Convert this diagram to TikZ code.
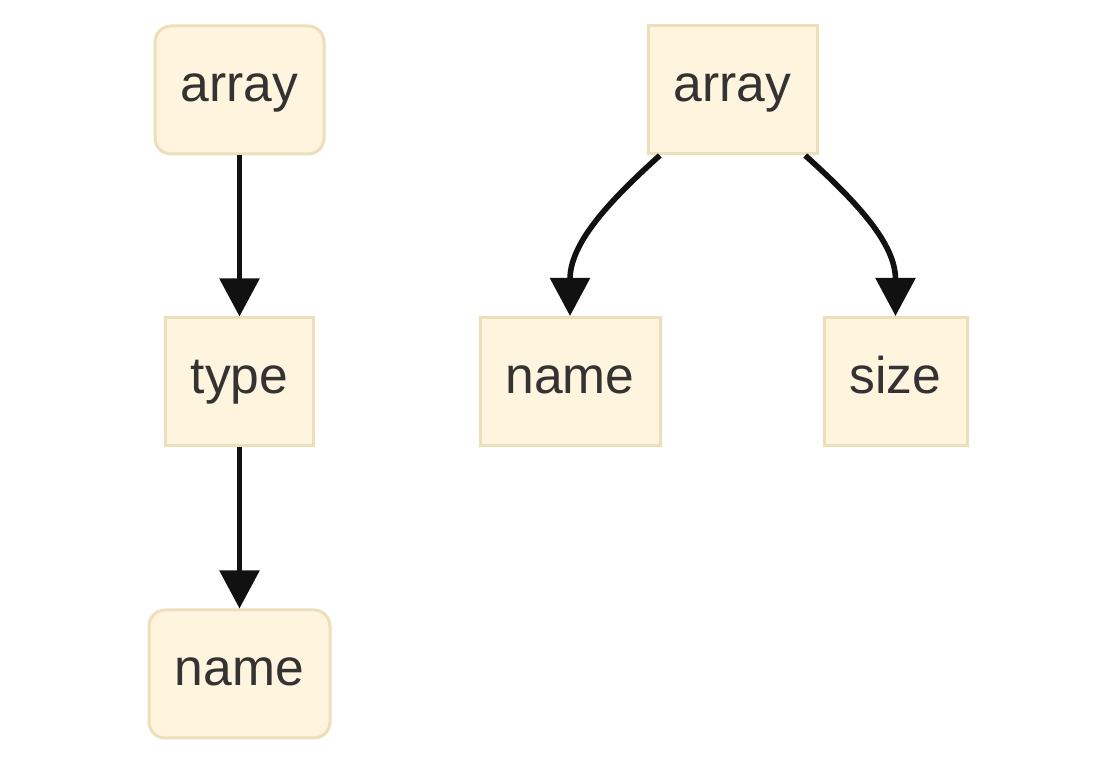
\documentclass[tikz,border=0pt]{standalone}
\usepackage{fontspec}
\setmainfont{Liberation Sans}
\usepackage{tikz}
\usetikzlibrary{arrows.meta,positioning}

\definecolor{boxfill}{HTML}{FFF4DE}
\definecolor{boxline}{HTML}{EEDFB8}
\definecolor{boxtext}{HTML}{333333}
\definecolor{edgecol}{HTML}{111111}

\begin{document}
\begin{tikzpicture}[x=0.5pt,y=-0.5pt,node distance=80.5pt and 1cm,
  box/.style={draw=boxline,fill=boxfill,line width=1.5pt,text=boxtext,align=center,
    minimum height=64pt,inner sep=0pt,text height=18pt,text depth=6pt,
    font=\fontsize{25.8}{31}\selectfont},
  roundbox/.style={box,rounded corners=8pt},
  arrow/.style={-{Triangle[length=19pt,width=19.5pt]},line width=2.8pt,draw=edgecol}]
\useasboundingbox (0,0) rectangle (1116,764);
% left column
\node[roundbox,minimum width=84.5pt] (array1) at (239.5,90) {array};
\node[box,minimum width=74pt,below=of array1] (type) {type};
\node[roundbox,minimum width=90.5pt,below=of type] (name1) {name};
\draw[arrow] (array1) -- (type);
\draw[arrow] (type) -- (name1);
% right part
\node[box,minimum width=84.5pt] (array2) at (732.5,90) {array};
\node[box,minimum width=90pt] (name2) at (570,381.5) {name};
\node[box,minimum width=71.5pt] (size) at (895.5,381.5) {size};
\draw[arrow] (array2) to[out=-138,in=90] (name2);
\draw[arrow] (array2) to[out=-42,in=90] (size);
\end{tikzpicture}
\end{document}
